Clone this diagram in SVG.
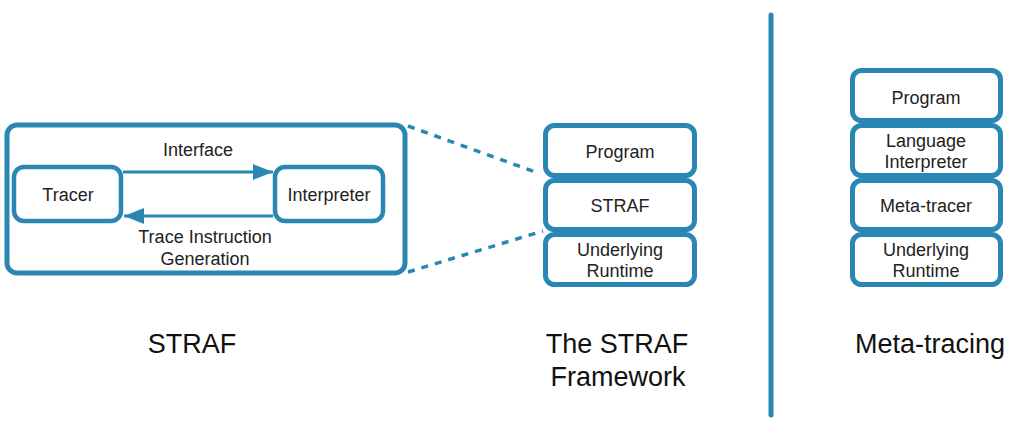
<svg xmlns="http://www.w3.org/2000/svg" width="1024" height="423" viewBox="0 0 1024 423">
<style>
.box{fill:#fff;stroke:#2a87b3;stroke-width:5}
.sbox{fill:#fff;stroke:#2a87b3;stroke-width:4.5}
.t{font-family:"Liberation Sans",Arial,sans-serif;font-size:18px;fill:#222;text-anchor:middle}
.big{font-family:"Liberation Sans",Arial,sans-serif;font-size:27px;fill:#111;text-anchor:middle}
.conn{stroke:#2a87b3;stroke-width:3;fill:none}
.dash{stroke:#2a87b3;stroke-width:3.5;fill:none;stroke-dasharray:7 7}
</style>
<defs>
<marker id="ah" viewBox="0 0 10 10" refX="10" refY="5" markerWidth="7" markerHeight="6" markerUnits="userSpaceOnUse" orient="auto">
<path d="M0,0 L10,5 L0,10 z" fill="#2a87b3"/>
</marker>
<marker id="ah2" viewBox="0 0 20 16" refX="20" refY="8" markerWidth="20" markerHeight="16" markerUnits="userSpaceOnUse" orient="auto">
<path d="M0,0 L20,8 L0,16 z" fill="#2a87b3"/>
</marker>
</defs>
<rect width="1024" height="423" fill="#fff"/>

<g id="straf-outer">
<rect class="box" x="7" y="125" width="398" height="148" rx="10"/>
</g>
<g id="tracer">
<rect class="sbox" x="14" y="167" width="107" height="54" rx="10"/>
<text class="t" x="68" y="201">Tracer</text>
</g>
<g id="interpreter">
<rect class="sbox" x="275" y="167" width="108" height="54" rx="10"/>
<text class="t" x="329" y="201">Interpreter</text>
</g>

<g id="connectors">
<line class="conn" x1="123" y1="172" x2="273" y2="172" marker-end="url(#ah2)"/>
<line class="conn" x1="273" y1="216" x2="124" y2="216" marker-end="url(#ah2)"/>
<line class="dash" x1="408" y1="126" x2="538" y2="173"/>
<line class="dash" x1="408" y1="272" x2="543" y2="231"/>
<line x1="771" y1="15" x2="771" y2="415" stroke="#2a87b3" stroke-width="5" stroke-linecap="round"/>
</g>
<g id="connector-labels">
<text class="t" x="198" y="156">Interface</text>
<text class="t" x="205" y="243">Trace Instruction</text>
<text class="t" x="205" y="265">Generation</text>
</g>

<g id="mid-program">
<rect class="box" x="545.5" y="125.5" width="149" height="50" rx="9"/>
<text class="t" x="620" y="158">Program</text>
</g>
<g id="mid-straf">
<rect class="box" x="545.5" y="180.5" width="149" height="49" rx="9"/>
<text class="t" x="620" y="212">STRAF</text>
</g>
<g id="mid-runtime">
<rect class="box" x="545.5" y="234.5" width="149" height="50" rx="9"/>
<text class="t" x="620" y="256">Underlying</text>
<text class="t" x="620" y="277">Runtime</text>
</g>

<g id="r-program">
<rect class="box" x="852.5" y="70.5" width="148" height="50" rx="9"/>
<text class="t" x="926" y="104">Program</text>
</g>
<g id="r-interp">
<rect class="box" x="852.5" y="125.5" width="148" height="50" rx="9"/>
<text class="t" x="926" y="147">Language</text>
<text class="t" x="926" y="168">Interpreter</text>
</g>
<g id="r-meta">
<rect class="box" x="852.5" y="180.5" width="148" height="49" rx="9"/>
<text class="t" x="926" y="212">Meta-tracer</text>
</g>
<g id="r-runtime">
<rect class="box" x="852.5" y="234.5" width="148" height="50" rx="9"/>
<text class="t" x="926" y="256">Underlying</text>
<text class="t" x="926" y="277">Runtime</text>
</g>

<g id="titles">
<text class="big" x="192" y="353">STRAF</text>
<text class="big" x="617" y="353">The STRAF</text>
<text class="big" x="618" y="386">Framework</text>
<text class="big" x="930" y="353">Meta-tracing</text>
</g>
</svg>
